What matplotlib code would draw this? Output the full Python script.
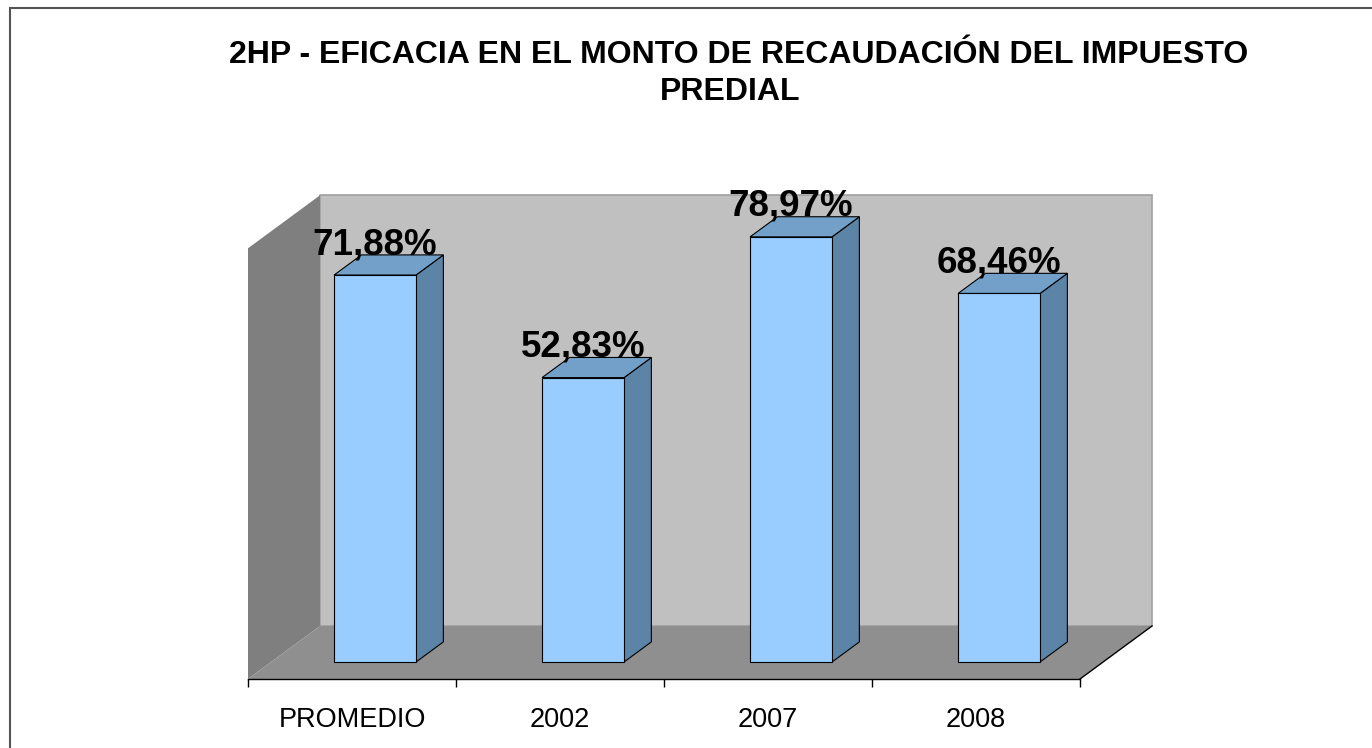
import matplotlib
matplotlib.use('Agg')
import matplotlib.pyplot as plt
from matplotlib.patches import Polygon, Rectangle
from matplotlib.transforms import IdentityTransform

plt.rcParams['font.family'] = ['Liberation Sans', 'DejaVu Sans']

# datos
categorias = ['PROMEDIO', '2002', '2007', '2008']
valores = [71.88, 52.83, 78.97, 68.46]
etiquetas = ['71,88%', '52,83%', '78,97%', '68,46%']
titulo = ['2HP - EFICACIA EN EL MONTO DE RECAUDACIÓN DEL IMPUESTO', 'PREDIAL']

W, H = 1372, 748
fig = plt.figure(figsize=(W / 100, H / 100), dpi=100)
fig.patch.set_facecolor('white')

# marco exterior
fig.add_artist(Rectangle((10 / W, -0.01), 1.02, (H - 8) / H + 0.01, transform=fig.transFigure,
                         fill=False, edgecolor='#555555', lw=1.5))

ax = fig.add_axes([248 / W, (H - 679) / H, 832 / W, 430.7 / H])
ax.set_xlim(0, len(categorias))
ax.set_ylim(0, 80)
ax.patch.set_visible(False)

# profundidad 3D (pixeles)
DX, DY = 72, 53
D0, D1 = 0.32, 0.70   # profundidad de las barras
ANCHO = 0.394


def proj(x, y, d):
    px, py = ax.transData.transform((x, y))
    return (px + DX * d, py + DY * d)


def cara(pts, fc, ec='none', lw=0.0, z=1):
    p = Polygon(pts, closed=True, facecolor=fc, edgecolor=ec, lw=lw,
                transform=IdentityTransform(), clip_on=False, zorder=z)
    ax.add_patch(p)


n = len(categorias)
ymax = 80
# paredes y piso
cara([proj(0, 0, 1), proj(n, 0, 1), proj(n, ymax, 1), proj(0, ymax, 1)], '#c0c0c0', '#a0a0a0', 1.2, z=1)
cara([proj(0, 0, 0), proj(0, ymax, 0), proj(0, ymax, 1), proj(0, 0, 1)], '#7f7f7f', z=1)
cara([proj(0, 0, 0), proj(n, 0, 0), proj(n, 0, 1), proj(0, 0, 1)], '#8f8f8f', z=1)
ax.plot(*zip(proj(n, 0, 0), proj(n, 0, 1)), color='black', lw=1.0,
        transform=IdentityTransform(), clip_on=False, zorder=2)

# barras
for i, (v, lab) in enumerate(zip(valores, etiquetas)):
    c = i + 0.5
    x0, x1 = c - ANCHO / 2, c + ANCHO / 2
    cara([proj(x1, 0, D0), proj(x1, 0, D1), proj(x1, v, D1), proj(x1, v, D0)], '#5b84a6', 'black', 0.8, z=3)
    cara([proj(x0, v, D0), proj(x1, v, D0), proj(x1, v, D1), proj(x0, v, D1)], '#72a0c8', 'black', 0.8, z=3)
    cara([proj(x0, 0, D0), proj(x1, 0, D0), proj(x1, v, D0), proj(x0, v, D0)], '#99ccff', 'black', 0.8, z=4)
    tx, ty = proj(c, v, D0)
    ax.text(tx, ty + 21, lab, transform=IdentityTransform(), ha='center', va='baseline',
            fontsize=26.5, fontweight='bold', color='black', zorder=6, clip_on=False)

# ejes
for s in ['left', 'right', 'top']:
    ax.spines[s].set_visible(False)
ax.spines['bottom'].set_color('black')
ax.spines['bottom'].set_linewidth(1.0)
ax.spines['bottom'].set_zorder(5)
ax.set_yticks([])
ax.set_xticks(range(n + 1))
ax.set_xticklabels([])
ax.set_xticks([i + 0.5 for i in range(n)], minor=True)
ax.set_xticklabels(categorias, minor=True, fontsize=19.5)
ax.tick_params(axis='x', which='major', direction='out', length=5.8, width=1.0, color='black')
ax.tick_params(axis='x', which='minor', length=0, pad=20)

# titulo
fig.text(738.5 / W, (H - 63) / H, titulo[0], ha='center', va='baseline', fontsize=23, fontweight='bold')
fig.text(730 / W, (H - 100) / H, titulo[1], ha='center', va='baseline', fontsize=23, fontweight='bold')

fig.savefig('out.png', dpi=100)
